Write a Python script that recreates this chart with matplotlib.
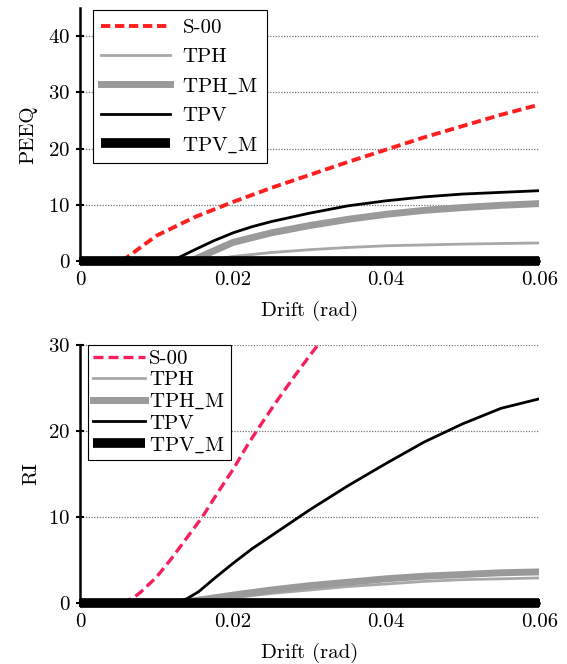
import matplotlib
matplotlib.use("Agg")
import matplotlib.pyplot as plt
import numpy as np

plt.rcParams['font.family'] = ['cmr10', 'DejaVu Serif']
plt.rcParams['mathtext.fontset'] = 'cm'
plt.rcParams['axes.formatter.use_mathtext'] = True
plt.rcParams['font.size'] = 15

# PEEQ data (top)
peeq_s00_x = [0.0055, 0.01, 0.015, 0.02, 0.025, 0.03, 0.035, 0.04, 0.045, 0.05, 0.055, 0.06]
peeq_s00_y = [0, 4.5, 7.8, 10.5, 13.0, 15.3, 17.6, 19.8, 22.0, 24.0, 26.0, 27.8]
peeq_tph_x = [0, 0.016, 0.02, 0.025, 0.03, 0.035, 0.04, 0.05, 0.06]
peeq_tph_y = [0, 0, 0.8, 1.5, 2.0, 2.4, 2.7, 3.0, 3.2]
peeq_tphm_x = [0, 0.0145, 0.02, 0.025, 0.03, 0.035, 0.04, 0.045, 0.05, 0.055, 0.06]
peeq_tphm_y = [0, 0, 3.3, 5.0, 6.3, 7.4, 8.3, 9.0, 9.5, 9.9, 10.2]
peeq_tpv_x = [0, 0.012, 0.015, 0.0175, 0.02, 0.0225, 0.025, 0.03, 0.035, 0.04, 0.045, 0.05, 0.055, 0.06]
peeq_tpv_y = [0, 0, 2.0, 3.6, 5.0, 6.1, 7.0, 8.5, 9.8, 10.7, 11.4, 11.9, 12.2, 12.5]
peeq_tpvm_x = [0, 0.06]
peeq_tpvm_y = [0, 0]

# RI data (bottom)
ri_s00_x = [0.0055, 0.007, 0.008, 0.01, 0.012, 0.014, 0.016, 0.018, 0.02, 0.022, 0.024, 0.026, 0.028, 0.03, 0.032]
ri_s00_y = [0, 0.6, 1.3, 3.0, 5.2, 7.6, 10.0, 12.8, 15.5, 18.5, 21.2, 23.8, 26.3, 28.7, 31.0]
ri_tph_x = [0, 0.013, 0.02, 0.025, 0.03, 0.035, 0.04, 0.045, 0.05, 0.055, 0.06]
ri_tph_y = [0, 0, 0.6, 1.1, 1.5, 1.9, 2.2, 2.5, 2.7, 2.8, 2.9]
ri_tphm_x = [0, 0.013, 0.02, 0.025, 0.03, 0.035, 0.04, 0.045, 0.05, 0.055, 0.06]
ri_tphm_y = [0, 0, 0.9, 1.5, 2.0, 2.4, 2.8, 3.1, 3.3, 3.5, 3.6]
ri_tpv_x = [0, 0.0125, 0.014, 0.0155, 0.0175, 0.02, 0.0225, 0.025, 0.0275, 0.03, 0.035, 0.04, 0.045, 0.05, 0.055, 0.06]
ri_tpv_y = [0, 0, 0.5, 1.3, 2.8, 4.6, 6.3, 7.8, 9.3, 10.8, 13.6, 16.2, 18.7, 20.8, 22.6, 23.7]
ri_tpvm_x = [0, 0.06]
ri_tpvm_y = [0, 0]

labels = ["S-00", "TPH", r"TPH$\_$M", "TPV", r"TPV$\_$M"]
xticks = [0, 0.02, 0.04, 0.06]
xtick_labels = ["0", "0.02", "0.04", "0.06"]

fig = plt.figure(figsize=(5.67, 6.64), dpi=100)
ax1 = fig.add_axes([0.141, 0.607, 0.810, 0.381])
ax2 = fig.add_axes([0.141, 0.092, 0.810, 0.389])


def style_axis(ax, yticks, ymax):
    for g in yticks[1:]:
        ax.axhline(g, color="#777777", lw=0.9, ls=(0, (1, 1.2)), zorder=0)
    ax.set_xlim(0, 0.06)
    ax.set_ylim(0, ymax)
    ax.set_xticks(xticks)
    ax.set_xticklabels(xtick_labels)
    ax.set_yticks(yticks)
    ax.spines["top"].set_visible(False)
    ax.spines["right"].set_visible(False)
    ax.spines["left"].set_linewidth(1.8)
    ax.spines["bottom"].set_linewidth(1.8)
    ax.tick_params(direction="inout", length=6, width=1.5, labelsize=15, pad=4)
    ax.set_xlabel("Drift (rad)", fontsize=15, labelpad=9)


ax1.plot(peeq_s00_x, peeq_s00_y, color="#ff1f1f", ls=(0, (2.4, 1.2)), lw=2.8, label=labels[0])
ax1.plot(peeq_tph_x, peeq_tph_y, color="#a8a8a8", lw=2.0, label=labels[1])
ax1.plot(peeq_tphm_x, peeq_tphm_y, color="#9a9a9a", lw=5.0, label=labels[2])
ax1.plot(peeq_tpv_x, peeq_tpv_y, color="black", lw=2.0, label=labels[3])
ax1.plot(peeq_tpvm_x, peeq_tpvm_y, color="black", lw=7.0, label=labels[4],
         clip_on=False, solid_capstyle="butt")
style_axis(ax1, [0, 10, 20, 30, 40], 45)
ax1.set_ylabel("PEEQ", fontsize=15, labelpad=8)
leg1 = ax1.legend(loc="upper left", fontsize=15, fancybox=False, edgecolor="black",
                  framealpha=1, handlelength=3.3, labelspacing=0.5, borderpad=0.4,
                  handletextpad=0.6, borderaxespad=0, bbox_to_anchor=(0.028, 0.992))
leg1.get_frame().set_linewidth(0.8)

ax2.plot(ri_s00_x, ri_s00_y, color="#f5205a", ls=(0, (3, 1.5)), lw=2.4, label=labels[0])
ax2.plot(ri_tph_x, ri_tph_y, color="#a8a8a8", lw=2.0, label=labels[1])
ax2.plot(ri_tphm_x, ri_tphm_y, color="#9a9a9a", lw=5.0, label=labels[2])
ax2.plot(ri_tpv_x, ri_tpv_y, color="black", lw=2.0, label=labels[3])
ax2.plot(ri_tpvm_x, ri_tpvm_y, color="black", lw=7.0, label=labels[4],
         clip_on=False, solid_capstyle="butt")
style_axis(ax2, [0, 10, 20, 30], 30)
ax2.set_ylabel("RI", fontsize=15, labelpad=6)
leg2 = ax2.legend(loc="upper left", fontsize=15, fancybox=False, edgecolor="black",
                  framealpha=1, handlelength=2.5, handletextpad=0.2, labelspacing=0.12,
                  borderpad=0.25, borderaxespad=0, bbox_to_anchor=(0.017, 1.0))
leg2.get_frame().set_linewidth(0.8)

fig.savefig("out.png", dpi=100)
